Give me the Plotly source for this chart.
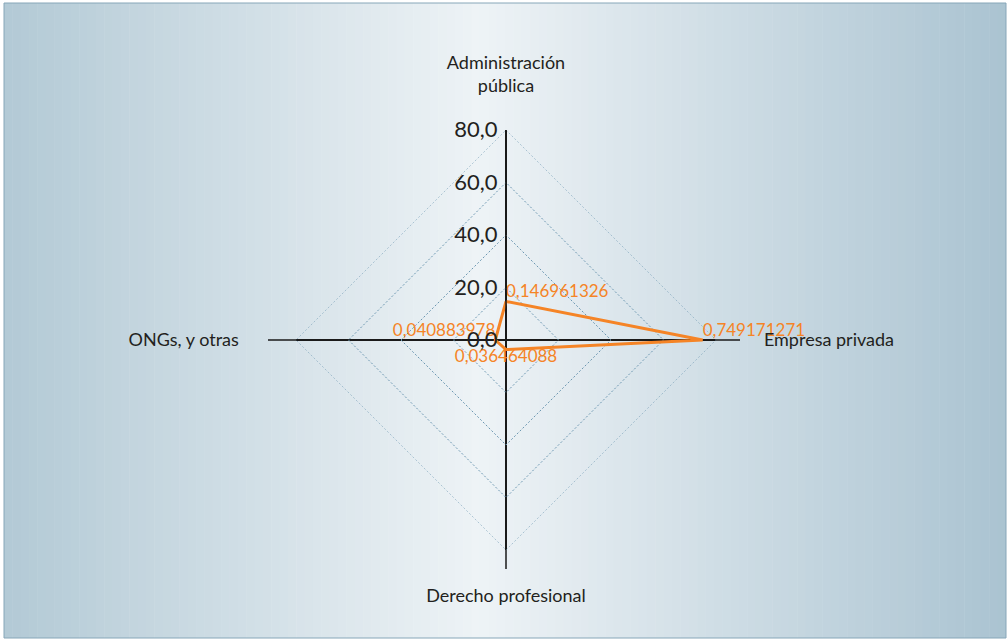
import plotly.graph_objects as go

# ---------------- data ----------------
categories = ["Administración<br>pública", "Empresa privada", "Derecho profesional", "ONGs, y otras"]
shares = [0.146961326, 0.749171271, 0.036464088, 0.040883978]
radial_ticks = [0, 20, 40, 60, 80]

# ---------------- layout constants (pixels) ----------------
W, H = 1008, 640
cx, cy, R = 506, 340, 210          # polar centre and radius in pixels
ORANGE = "#F58426"
TEXT = "#231F20"
GRID = "#6C97B1"
GRID_DASH = "2px,2px"
FONT = "Lato"

r_vals = [v * 100 for v in shares]
labels = [f"{v:.9f}".replace(".", ",") for v in shares]
NB = "\u00a0"
tick_text = [categories[0], NB * 3 + categories[1], categories[2], categories[3] + NB * 5]

fig = go.Figure()
# outer ring (80) drawn as dotted polygon
fig.add_trace(go.Scatterpolar(
    r=[radial_ticks[-1]] * (len(categories) + 1),
    theta=categories + [categories[0]],
    mode="lines",
    line=dict(color=GRID, width=1, dash=GRID_DASH),
    cliponaxis=False, showlegend=False, hoverinfo="skip",
))
fig.add_trace(go.Scatterpolar(
    r=r_vals + [r_vals[0]],
    theta=categories + [categories[0]],
    mode="lines+text",
    line=dict(color=ORANGE, width=3),
    text=labels + [""],
    textposition=["top right", "top right", "bottom center", "top left", "top right"],
    textfont=dict(family=FONT, size=17, color=ORANGE),
    cliponaxis=False,
    showlegend=False,
    hoverinfo="skip",
))

# background gradient strips
def lerp(a, b, t):
    return tuple(round(a[i] + (b[i] - a[i]) * t) for i in range(3))

left_c, mid_c, right_c = (178, 201, 213), (238, 243, 246), (170, 195, 209)
x0p, x1p = 4 / W, 1006 / W
y0p, y1p = 1 - 638 / H, 1 - 3 / H
n = 120
shapes = []
for i in range(n):
    xa = x0p + (x1p - x0p) * i / n
    xb = x0p + (x1p - x0p) * (i + 1) / n + 0.0005
    xm = (xa + xb) / 2 * W
    if xm < 480:
        c = lerp(left_c, mid_c, xm / 480)
    else:
        c = lerp(mid_c, right_c, (xm - 480) / (W - 480))
    shapes.append(dict(type="rect", xref="paper", yref="paper", x0=xa, x1=min(xb, x1p),
                       y0=y0p, y1=y1p, line=dict(width=0), fillcolor=f"rgb{c}", layer="below"))
# frame
shapes.append(dict(type="rect", xref="paper", yref="paper", x0=x0p, x1=x1p, y0=y0p, y1=y1p,
                   line=dict(color="#86A6B8", width=1), fillcolor="rgba(0,0,0,0)", layer="below"))

# axis extensions beyond the outer ring (left, right, bottom)
def px(x):
    return x / W

def py(y):
    return 1 - y / H

ext = dict(color="#1A1A1A", width=1.5)
shapes.append(dict(type="line", xref="paper", yref="paper", x0=px(cx - R - 28), x1=px(cx - R),
                   y0=py(cy), y1=py(cy), line=ext))
shapes.append(dict(type="line", xref="paper", yref="paper", x0=px(cx + R), x1=px(cx + R + 24),
                   y0=py(cy), y1=py(cy), line=ext))
shapes.append(dict(type="line", xref="paper", yref="paper", x0=px(cx), x1=px(cx),
                   y0=py(cy + R), y1=py(cy + R + 19), line=ext))

fig.update_layout(
    width=W, height=H,
    margin=dict(l=0, r=0, t=0, b=0, pad=0),
    paper_bgcolor="white",
    separators=",.",
    shapes=shapes,
    polar=dict(
        domain=dict(x=[(cx - R) / W, (cx + R) / W], y=[1 - (cy + R) / H, 1 - (cy - R) / H]),
        bgcolor="rgba(0,0,0,0)",
        gridshape="linear",
        radialaxis=dict(
            range=[0, radial_ticks[-1]],
            tickvals=radial_ticks,
            tickformat=".1f",
            angle=90,
            tickangle=90,
            side="counterclockwise",
            showline=True, linecolor="#1A1A1A", linewidth=1.5,
            showgrid=True, gridcolor=GRID, gridwidth=1, griddash=GRID_DASH,
            ticks="",
            tickfont=dict(family=FONT, size=22, color=TEXT),
        ),
        angularaxis=dict(
            rotation=90,
            direction="clockwise",
            showline=False,
            showgrid=True, gridcolor="#1A1A1A", gridwidth=1.5,
            ticks="outside", ticklen=30, tickcolor="rgba(0,0,0,0)",
            tickvals=categories, ticktext=tick_text,
            tickfont=dict(family=FONT, size=18, color=TEXT),
        ),
    ),
)

fig.write_html("out.html", config={"displayModeBar": False},
               post_script="document.body.style.margin='0';document.body.style.overflow='hidden';")
